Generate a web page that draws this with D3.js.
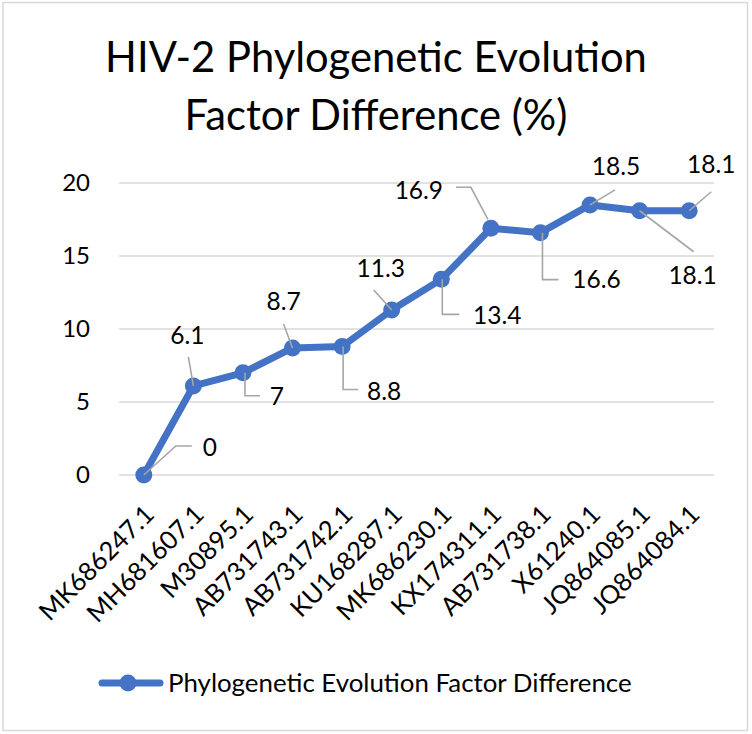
<!DOCTYPE html>
<html>
<head>
<meta charset="utf-8">
<script src="https://cdn.jsdelivr.net/npm/d3@7"></script>
<style>
  html, body { margin: 0; padding: 0; background: #fff; }
  svg { display: block; }
  text { font-family: Lato, "Open Sans", sans-serif; fill: #000; }
</style>
</head>
<body>
<svg id="chart" width="752" height="734"></svg>
<script>
// ---- data ----
const categories = ["MK686247.1","MH681607.1","M30895.1","AB731743.1","AB731742.1","KU168287.1","MK686230.1","KX174311.1","AB731738.1","X61240.1","JQ864085.1","JQ864084.1"];
const values = [0, 6.1, 7, 8.7, 8.8, 11.3, 13.4, 16.9, 16.6, 18.5, 18.1, 18.1];
const yTicks = [0, 5, 10, 15, 20];
const seriesName = "Phylogenetic Evolution Factor Difference";
const titleLines = ["HIV-2 Phylogenetic Evolution", "Factor Difference (%)"];

// ---- layout (label offsets relative to each point, leader polylines) ----
const labelLayout = [
  {dx: 66, dy: -28, leader: [[0,0],[32,-29],[48,-29]]},
  {dx: -6, dy: -51, leader: [[0,0],[-5,-29]]},
  {dx: 34, dy: 24, leader: [[2,0],[2,23],[17,23]]},
  {dx: -9, dy: -47, leader: [[0,0],[-9,-24]]},
  {dx: 42, dy: 45, leader: [[1,0],[1,43],[16,43]]},
  {dx: -11, dy: -42, leader: [[0,0],[-18,-20]]},
  {dx: 56, dy: 36, leader: [[1,0],[1,35],[18,35]]},
  {dx: -72, dy: -38, leader: [[-3,-9],[-20,-41],[-35,-41]]},
  {dx: 56, dy: 47, leader: [[2,0],[2,47],[18,47]]},
  {dx: 26, dy: -38, leader: [[0,0],[25,-15]]},
  {dx: 53, dy: 65, leader: [[0,0],[54,41]]},
  {dx: 22, dy: -46, leader: [[0,0],[22,-19]]}
];

const svg = d3.select("#chart");
const blue = "#4472C4";
const grid = "#d9d9d9";
const leaderColor = "#a6a6a6";

// border
svg.append("rect").attr("x", 3).attr("y", 2.5).attr("width", 744.5).attr("height", 728)
  .attr("fill", "#fff").attr("stroke", "#d9d9d9").attr("stroke-width", 1.5);

// title
const title = svg.append("g");
titleLines.forEach((t, i) => {
  title.append("text").attr("x", 376).attr("y", 72 + i * 58)
    .attr("text-anchor", "middle").attr("font-size", 40).text(t);
});
{
  const n = title.select("text").node();
  const w = n.getComputedTextLength();
  const fs = 40 * 542 / w;
  title.selectAll("text").attr("font-size", fs);
}

const x = d3.scaleBand().domain(categories).range([119, 714]).padding(0);
const y = d3.scaleLinear().domain([0, 20]).range([475, 183]);
const cx = d => x(d) + x.bandwidth() / 2;

// gridlines
svg.append("g").selectAll("line").data(yTicks).join("line")
  .attr("x1", 119).attr("x2", 714)
  .attr("y1", d => y(d)).attr("y2", d => y(d))
  .attr("stroke", grid).attr("stroke-width", 1.5);

// y axis labels
const yAxis = svg.append("g").attr("transform", "translate(90,0)")
  .call(d3.axisLeft(y).tickValues(yTicks).tickSize(0).tickPadding(0).tickFormat(d3.format("d")));
yAxis.select(".domain").remove();
yAxis.selectAll("text").attr("font-size", 24).attr("font-family", "Lato").attr("fill", "#000");

// x axis labels
const xAxis = svg.append("g").attr("transform", "translate(0,475)")
  .call(d3.axisBottom(x).tickSize(0).tickPadding(0));
xAxis.select(".domain").remove();
xAxis.selectAll("text")
  .attr("font-size", 25.5).attr("font-family", "Lato").attr("fill", "#000")
  .attr("text-anchor", "end")
  .attr("dy", 0)
  .attr("transform", "translate(12,41) rotate(-45)");

// line
const pts = categories.map((c, i) => ({c, v: values[i], i}));
svg.append("path").datum(pts)
  .attr("fill", "none").attr("stroke", blue).attr("stroke-width", 7)
  .attr("stroke-linejoin", "round").attr("stroke-linecap", "round")
  .attr("d", d3.line().x(d => cx(d.c)).y(d => y(d.v)));

svg.append("g").selectAll("circle").data(pts).join("circle")
  .attr("cx", d => cx(d.c)).attr("cy", d => y(d.v)).attr("r", 8.5).attr("fill", blue);

// leaders
svg.append("g").selectAll("polyline").data(pts).join("polyline")
  .attr("fill", "none").attr("stroke", leaderColor).attr("stroke-width", 1.6)
  .attr("points", d => labelLayout[d.i].leader.map(p => [cx(d.c) + p[0], y(d.v) + p[1]].join(",")).join(" "));

// data labels
svg.append("g").selectAll("text").data(pts).join("text")
  .attr("x", d => cx(d.c) + labelLayout[d.i].dx)
  .attr("y", d => y(d.v) + labelLayout[d.i].dy)
  .attr("dy", "0.35em").attr("text-anchor", "middle").attr("font-size", 24.5)
  .text(d => d3.format("~g")(d.v));

// legend
const lg = svg.append("g");
lg.append("line").attr("x1", 102).attr("x2", 160).attr("y1", 683).attr("y2", 683)
  .attr("stroke", blue).attr("stroke-width", 7).attr("stroke-linecap", "round");
lg.append("circle").attr("cx", 128).attr("cy", 683).attr("r", 8.5).attr("fill", blue);
const lt = lg.append("text").attr("x", 168).attr("y", 683).attr("dy", "0.35em")
  .attr("font-size", 24).text(seriesName);
{
  const w = lt.node().getComputedTextLength();
  lt.attr("font-size", 24 * 464 / w);
}
</script>
</body>
</html>
